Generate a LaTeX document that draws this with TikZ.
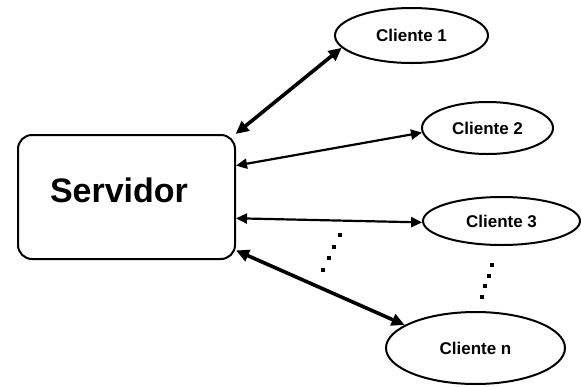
\documentclass[tikz,border=0pt]{standalone}
\usepackage{fontspec}
\newfontfamily\labelfont{Liberation Sans}
\usetikzlibrary{arrows.meta,shapes.geometric,calc}
\tikzset{
  server/.style={draw, line width=2pt, rounded corners=14pt, minimum width=217pt, minimum height=124pt, inner sep=0pt},
  client/.style={draw, ellipse, line width=2pt, inner sep=0pt, font=\labelfont\bfseries\fontsize{17}{20}\selectfont},
  heavylink/.style={line width=3.6pt, {Triangle[length=13pt,width=12pt]}-{Triangle[length=13pt,width=12pt]}},
  lightlink/.style={line width=2.2pt, {Triangle[length=11pt,width=10pt]}-{Triangle[length=11pt,width=10pt]}},
  dotmark/.style={fill=black, minimum size=4pt, inner sep=0pt, rectangle}
}
\begin{document}
\begin{tikzpicture}[x=1pt,y=-1pt]
  \fill[white] (0,0) rectangle (581,386);
  \useasboundingbox (0,0) rectangle (581,386);

  % server box and its label
  \node[server] (srv) at (126.5,197) {};
  \node[anchor=base, font=\labelfont\bfseries\fontsize{34}{40}\selectfont] (srvlabel) at (119,202) {Servidor};

  % clients
  \node[client, minimum width=153pt, minimum height=55pt] (c1) at (411.5,35.5) {Cliente 1};
  \node[client, minimum width=131pt, minimum height=52pt] (c2) at (487.5,128) {Cliente 2};
  \node[client, minimum width=157pt, minimum height=48pt] (c3) at (501.5,221) {Cliente 3};
  \node[client, minimum width=179pt, minimum height=72pt] (cn) at (475.5,348) {Cliente n};

  % two-way links
  \draw[heavylink] (srv.30) -- (c1.190);
  \draw[lightlink] (srv.16) -- (c2.184);
  \draw[lightlink] (srv.-11) -- (c3.181);
  \draw[heavylink] (srv.-26) -- (cn.162);

  % vertical ellipses between client 3 and client n: four dots each
  \coordinate (dl1) at (340,235);
  \coordinate (dl2) at (323,270);
  \coordinate (dr1) at (492,265);
  \coordinate (dr2) at (482,297);
  \foreach \t in {0,0.3333,0.6667,1} {
    \node[dotmark] at ($(dl1)!\t!(dl2)$) {};
    \node[dotmark] at ($(dr1)!\t!(dr2)$) {};
  }
\end{tikzpicture}
\end{document}
